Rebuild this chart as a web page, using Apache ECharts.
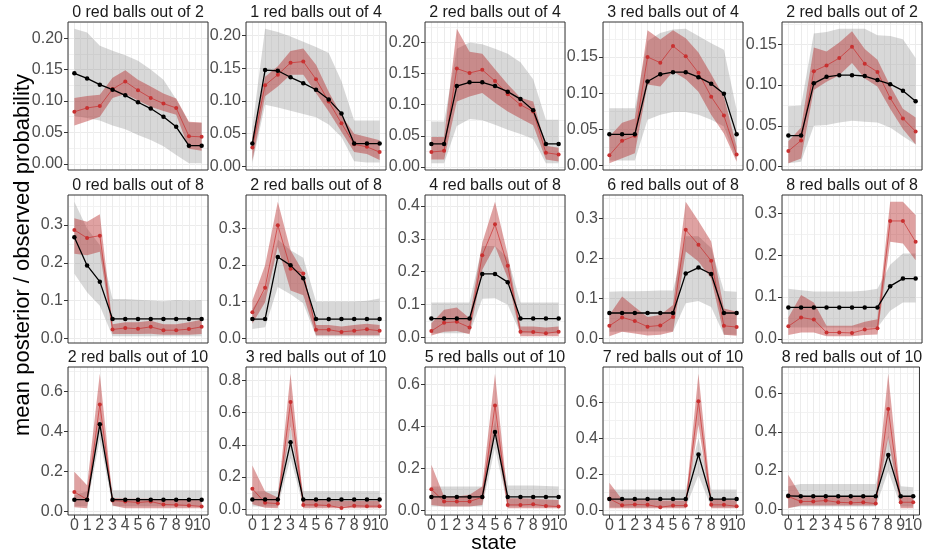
<!DOCTYPE html>
<html>
<head>
<meta charset="UTF-8">
<title>mean posterior / observed probability</title>
<style>
  html, body { margin: 0; padding: 0; background: #fff; }
  #chart { width: 925px; height: 558px; }
</style>
<script src="https://cdn.jsdelivr.net/npm/echarts@6/dist/echarts.min.js"></script>
</head>
<body>
<div id="chart"></div>
<script>
// states on the x axis
var STATES = ['0', '1', '2', '3', '4', '5', '6', '7', '8', '9', '10'];

var titles = [
  '0 red balls out of 2', '1 red balls out of 4', '2 red balls out of 4', '3 red balls out of 4', '2 red balls out of 2',
  '0 red balls out of 8', '2 red balls out of 8', '4 red balls out of 8', '6 red balls out of 8', '8 red balls out of 8',
  '2 red balls out of 10', '3 red balls out of 10', '5 red balls out of 10', '7 red balls out of 10', '8 red balls out of 10'
];

// y tick step and decimals per panel
var tickStep = [0.05, 0.05, 0.05, 0.05, 0.05, 0.1, 0.1, 0.1, 0.1, 0.1, 0.2, 0.2, 0.2, 0.2, 0.2];
var tickDigits = [2, 2, 2, 2, 2, 1, 1, 1, 1, 1, 1, 1, 1, 1, 1];

// observed probability (black) and its grey band
var observed = [
  [0.144, 0.136, 0.126, 0.118, 0.109, 0.098, 0.088, 0.075, 0.059, 0.029, 0.029],
  [0.035, 0.147, 0.146, 0.136, 0.127, 0.117, 0.102, 0.081, 0.035, 0.035, 0.035],
  [0.037, 0.037, 0.130, 0.136, 0.136, 0.130, 0.121, 0.109, 0.091, 0.037, 0.037],
  [0.043, 0.043, 0.043, 0.116, 0.126, 0.129, 0.129, 0.122, 0.113, 0.099, 0.043],
  [0.038, 0.038, 0.102, 0.110, 0.112, 0.112, 0.111, 0.106, 0.101, 0.093, 0.080],
  [0.268, 0.193, 0.150, 0.051, 0.051, 0.051, 0.051, 0.051, 0.051, 0.051, 0.051],
  [0.052, 0.052, 0.222, 0.199, 0.164, 0.052, 0.052, 0.052, 0.052, 0.052, 0.052],
  [0.057, 0.057, 0.057, 0.057, 0.193, 0.193, 0.168, 0.057, 0.057, 0.057, 0.057],
  [0.064, 0.064, 0.064, 0.064, 0.064, 0.064, 0.162, 0.177, 0.161, 0.064, 0.064],
  [0.075, 0.075, 0.075, 0.075, 0.075, 0.075, 0.075, 0.075, 0.126, 0.144, 0.144],
  [0.058, 0.058, 0.436, 0.058, 0.058, 0.058, 0.058, 0.058, 0.058, 0.058, 0.058],
  [0.060, 0.060, 0.060, 0.416, 0.060, 0.060, 0.060, 0.060, 0.060, 0.060, 0.060],
  [0.065, 0.065, 0.065, 0.065, 0.065, 0.374, 0.065, 0.065, 0.065, 0.065, 0.065],
  [0.062, 0.062, 0.062, 0.062, 0.062, 0.062, 0.062, 0.310, 0.062, 0.062, 0.062],
  [0.071, 0.069, 0.069, 0.069, 0.069, 0.069, 0.069, 0.069, 0.281, 0.069, 0.069]
];
var observedLo = [
  [0.076, 0.073, 0.069, 0.061, 0.055, 0.046, 0.038, 0.028, 0.014, 0.001, 0.001],
  [0.005, 0.094, 0.090, 0.085, 0.080, 0.075, 0.064, 0.045, 0.008, 0.006, 0.006],
  [0.006, 0.006, 0.066, 0.077, 0.075, 0.068, 0.060, 0.053, 0.045, 0.006, 0.006],
  [0.007, 0.007, 0.007, 0.063, 0.070, 0.074, 0.074, 0.070, 0.063, 0.054, 0.007],
  [0.004, 0.006, 0.050, 0.051, 0.054, 0.056, 0.055, 0.054, 0.048, 0.037, 0.027],
  [0.171, 0.122, 0.086, 0.005, 0.005, 0.005, 0.005, 0.005, 0.005, 0.005, 0.005],
  [0.025, 0.030, 0.140, 0.120, 0.095, 0.005, 0.005, 0.005, 0.005, 0.005, 0.005],
  [0.012, 0.012, 0.012, 0.012, 0.117, 0.119, 0.099, 0.012, 0.012, 0.012, 0.012],
  [0.017, 0.018, 0.018, 0.018, 0.018, 0.018, 0.088, 0.094, 0.079, 0.010, 0.010],
  [0.027, 0.027, 0.027, 0.027, 0.027, 0.027, 0.027, 0.027, 0.067, 0.087, 0.087],
  [0.025, 0.025, 0.360, 0.025, 0.025, 0.025, 0.025, 0.025, 0.025, 0.025, 0.025],
  [0.017, 0.017, 0.017, 0.318, 0.017, 0.017, 0.017, 0.017, 0.017, 0.017, 0.017],
  [0.019, 0.019, 0.019, 0.019, 0.019, 0.298, 0.019, 0.019, 0.019, 0.019, 0.019],
  [0.017, 0.017, 0.017, 0.017, 0.017, 0.017, 0.017, 0.194, 0.017, 0.017, 0.017],
  [0.010, 0.016, 0.016, 0.016, 0.016, 0.016, 0.016, 0.016, 0.198, 0.016, 0.016]
];
var observedHi = [
  [0.215, 0.209, 0.188, 0.180, 0.173, 0.164, 0.150, 0.134, 0.103, 0.066, 0.065],
  [0.060, 0.210, 0.205, 0.198, 0.190, 0.182, 0.173, 0.130, 0.070, 0.070, 0.070],
  [0.073, 0.073, 0.190, 0.200, 0.197, 0.190, 0.182, 0.168, 0.141, 0.076, 0.076],
  [0.079, 0.079, 0.079, 0.172, 0.183, 0.188, 0.189, 0.179, 0.169, 0.160, 0.077],
  [0.074, 0.075, 0.163, 0.165, 0.169, 0.169, 0.169, 0.161, 0.160, 0.156, 0.133],
  [0.362, 0.291, 0.247, 0.104, 0.104, 0.102, 0.100, 0.098, 0.101, 0.100, 0.101],
  [0.080, 0.130, 0.270, 0.240, 0.220, 0.100, 0.100, 0.100, 0.100, 0.102, 0.108],
  [0.106, 0.106, 0.106, 0.106, 0.278, 0.278, 0.242, 0.106, 0.106, 0.106, 0.106],
  [0.117, 0.118, 0.118, 0.119, 0.120, 0.120, 0.255, 0.255, 0.226, 0.119, 0.117],
  [0.120, 0.116, 0.113, 0.113, 0.113, 0.113, 0.115, 0.120, 0.177, 0.204, 0.204],
  [0.080, 0.100, 0.470, 0.105, 0.105, 0.105, 0.105, 0.105, 0.105, 0.105, 0.105],
  [0.110, 0.114, 0.114, 0.505, 0.114, 0.114, 0.114, 0.114, 0.114, 0.114, 0.114],
  [0.115, 0.115, 0.115, 0.115, 0.115, 0.433, 0.119, 0.119, 0.119, 0.117, 0.115],
  [0.116, 0.116, 0.116, 0.116, 0.116, 0.116, 0.116, 0.400, 0.116, 0.116, 0.116],
  [0.120, 0.132, 0.132, 0.132, 0.132, 0.132, 0.132, 0.132, 0.380, 0.120, 0.115]
];

// mean posterior (red) and its red band
var posterior = [
  [0.083, 0.089, 0.092, 0.119, 0.131, 0.117, 0.105, 0.096, 0.089, 0.044, 0.043],
  [0.029, 0.124, 0.140, 0.158, 0.160, 0.133, 0.099, 0.066, 0.034, 0.030, 0.022],
  [0.024, 0.026, 0.158, 0.151, 0.156, 0.138, 0.117, 0.100, 0.089, 0.023, 0.020],
  [0.014, 0.034, 0.041, 0.150, 0.142, 0.165, 0.151, 0.128, 0.095, 0.069, 0.015],
  [0.019, 0.032, 0.117, 0.124, 0.133, 0.147, 0.126, 0.116, 0.084, 0.059, 0.043],
  [0.287, 0.266, 0.272, 0.023, 0.027, 0.025, 0.030, 0.021, 0.021, 0.024, 0.030],
  [0.071, 0.138, 0.309, 0.190, 0.177, 0.023, 0.023, 0.017, 0.020, 0.024, 0.020],
  [0.019, 0.044, 0.047, 0.030, 0.250, 0.344, 0.218, 0.017, 0.016, 0.012, 0.017],
  [0.032, 0.053, 0.044, 0.030, 0.033, 0.054, 0.271, 0.234, 0.194, 0.032, 0.029],
  [0.030, 0.051, 0.046, 0.015, 0.015, 0.014, 0.022, 0.025, 0.282, 0.282, 0.232],
  [0.097, 0.059, 0.536, 0.054, 0.049, 0.044, 0.049, 0.034, 0.032, 0.029, 0.024],
  [0.127, 0.040, 0.035, 0.667, 0.027, 0.027, 0.023, 0.008, 0.021, 0.019, 0.019],
  [0.102, 0.043, 0.043, 0.043, 0.064, 0.501, 0.027, 0.027, 0.030, 0.022, 0.019],
  [0.064, 0.028, 0.032, 0.030, 0.017, 0.026, 0.026, 0.606, 0.030, 0.030, 0.022],
  [0.068, 0.042, 0.042, 0.047, 0.038, 0.035, 0.038, 0.031, 0.518, 0.038, 0.038]
];
var posteriorLo = [
  [0.061, 0.068, 0.075, 0.105, 0.111, 0.101, 0.091, 0.084, 0.078, 0.024, 0.021],
  [0.009, 0.107, 0.122, 0.140, 0.140, 0.112, 0.084, 0.053, 0.022, 0.019, 0.010],
  [0.012, 0.012, 0.105, 0.113, 0.119, 0.103, 0.089, 0.078, 0.067, 0.012, 0.009],
  [0.003, 0.010, 0.017, 0.112, 0.109, 0.130, 0.119, 0.102, 0.070, 0.044, 0.005],
  [0.004, 0.010, 0.094, 0.104, 0.112, 0.127, 0.108, 0.098, 0.071, 0.046, 0.027],
  [0.224, 0.220, 0.229, 0.011, 0.011, 0.011, 0.012, 0.009, 0.009, 0.009, 0.011],
  [0.039, 0.098, 0.250, 0.130, 0.117, 0.008, 0.008, 0.008, 0.008, 0.008, 0.008],
  [0.005, 0.017, 0.019, 0.009, 0.206, 0.278, 0.180, 0.003, 0.003, 0.003, 0.003],
  [0.006, 0.017, 0.013, 0.008, 0.010, 0.017, 0.217, 0.192, 0.150, 0.010, 0.007],
  [0.009, 0.015, 0.015, 0.006, 0.006, 0.006, 0.009, 0.010, 0.232, 0.228, 0.188],
  [0.020, 0.015, 0.461, 0.029, 0.015, 0.015, 0.015, 0.015, 0.015, 0.015, 0.015],
  [0.031, 0.010, 0.006, 0.515, 0.006, 0.006, 0.006, 0.006, 0.006, 0.006, 0.006],
  [0.027, 0.019, 0.019, 0.019, 0.027, 0.385, 0.011, 0.011, 0.011, 0.011, 0.011],
  [0.011, 0.011, 0.011, 0.011, 0.011, 0.011, 0.011, 0.475, 0.011, 0.011, 0.011],
  [0.007, 0.021, 0.021, 0.021, 0.021, 0.021, 0.021, 0.021, 0.371, 0.007, 0.007]
];
var posteriorHi = [
  [0.105, 0.108, 0.110, 0.137, 0.149, 0.134, 0.123, 0.112, 0.104, 0.067, 0.066],
  [0.045, 0.137, 0.153, 0.176, 0.180, 0.155, 0.114, 0.078, 0.050, 0.045, 0.040],
  [0.048, 0.048, 0.222, 0.185, 0.182, 0.157, 0.133, 0.111, 0.105, 0.034, 0.031],
  [0.040, 0.059, 0.065, 0.187, 0.174, 0.187, 0.176, 0.156, 0.126, 0.095, 0.026],
  [0.031, 0.048, 0.146, 0.141, 0.152, 0.166, 0.144, 0.131, 0.099, 0.071, 0.060],
  [0.318, 0.309, 0.329, 0.037, 0.042, 0.042, 0.046, 0.037, 0.037, 0.042, 0.049],
  [0.103, 0.199, 0.373, 0.240, 0.181, 0.036, 0.036, 0.032, 0.036, 0.039, 0.036],
  [0.043, 0.084, 0.091, 0.058, 0.288, 0.413, 0.252, 0.033, 0.033, 0.030, 0.033],
  [0.059, 0.105, 0.079, 0.054, 0.059, 0.084, 0.341, 0.293, 0.242, 0.075, 0.067],
  [0.051, 0.105, 0.087, 0.031, 0.031, 0.031, 0.041, 0.047, 0.328, 0.328, 0.296],
  [0.198, 0.130, 0.690, 0.066, 0.063, 0.063, 0.063, 0.060, 0.060, 0.060, 0.054],
  [0.272, 0.110, 0.073, 0.842, 0.058, 0.058, 0.055, 0.052, 0.052, 0.052, 0.052],
  [0.218, 0.067, 0.067, 0.075, 0.115, 0.652, 0.059, 0.059, 0.056, 0.053, 0.051],
  [0.153, 0.060, 0.060, 0.060, 0.054, 0.054, 0.054, 0.759, 0.064, 0.060, 0.054],
  [0.180, 0.073, 0.068, 0.068, 0.068, 0.068, 0.068, 0.062, 0.700, 0.068, 0.062]
];

var FONT = '"Liberation Sans", Arial, sans-serif';
var myChart = echarts.init(document.getElementById('chart'));

var grids = [], xAxes = [], yAxes = [], series = [], texts = [];

function diff(hi, lo) {
  return hi.map(function (v, k) { return +(v - lo[k]).toFixed(4); });
}

for (var i = 0; i < titles.length; i++) {
  var row = Math.floor(i / 5), col = i % 5;
  var gLeft = Math.round(67.7 + col * 178.5), gTop = Math.round(22.3 + row * 172.5);
  var gW = 140, gH = 148;

  // z 1 so the panel frame sits above the grid lines
  grids.push({ left: gLeft, top: gTop, width: gW, height: gH, show: true, z: 1,
    borderColor: '#333', borderWidth: 1, backgroundColor: 'transparent' });

  // y range like ggplot: data range expanded by 5%
  var all = [].concat(observed[i], observedLo[i], observedHi[i], posterior[i], posteriorLo[i], posteriorHi[i]);
  var dMin = Math.min.apply(null, all), dMax = Math.max.apply(null, all);
  var pad = (dMax - dMin) * 0.05;
  var yMin = dMin - pad, yMax = dMax + pad;
  var step = tickStep[i];
  var majors = [], minors = [];
  for (var k = 0; k * step <= yMax; k++) majors.push(+(k * step).toFixed(4));
  for (var m = -1; (m + 0.5) * step <= yMax; m++) {
    var v = +((m + 0.5) * step).toFixed(4);
    if (v >= yMin) minors.push(v);
  }

  // grid-line-only x axis (major lines at integer states)
  xAxes.push({ gridIndex: i, type: 'value', min: -0.5, max: 10.5, position: 'bottom',
    axisLine: { show: false, onZero: false },
    axisTick: { show: false, customValues: [0, 1, 2, 3, 4, 5, 6, 7, 8, 9, 10] },
    axisLabel: { show: false },
    splitLine: { show: true, lineStyle: { color: '#ebebeb', width: 1 } } });
  // data x axis (category), minor lines at band edges
  xAxes.push({ gridIndex: i, type: 'category', data: STATES, boundaryGap: true, position: 'bottom',
    axisLine: { show: false, onZero: false },
    axisTick: { show: row === 2, alignWithLabel: true, length: 4, lineStyle: { color: '#333' } },
    axisLabel: { show: row === 2, interval: 0, margin: 3, fontSize: 16, color: '#4d4d4d', fontFamily: FONT },
    splitLine: { show: true, interval: 0, lineStyle: { color: '#f2f2f2', width: 1 } } });

  yAxes.push({ gridIndex: i, type: 'value', min: yMin, max: yMax, position: 'left',
    axisLine: { show: false, onZero: false },
    axisTick: { show: false, customValues: minors },
    axisLabel: { show: false },
    splitLine: { show: true, lineStyle: { color: '#f2f2f2', width: 1 } } });
  yAxes.push({ gridIndex: i, type: 'value', min: yMin, max: yMax, position: 'left',
    axisLine: { show: false, onZero: false },
    axisTick: { show: true, length: 4, customValues: majors, lineStyle: { color: '#333' } },
    axisLabel: { customValues: majors, margin: 5, fontSize: 16, color: '#4d4d4d', fontFamily: FONT,
      formatter: (function (d) { return function (val) { return val.toFixed(d); }; })(tickDigits[i]) },
    splitLine: { show: true, lineStyle: { color: '#ebebeb', width: 1 } } });

  var xi = 2 * i + 1, yi = 2 * i + 1;
  // grey band
  series.push({ type: 'line', xAxisIndex: xi, yAxisIndex: yi, stack: 'obs' + i, data: observedLo[i],
    symbol: 'none', lineStyle: { opacity: 0 }, silent: true });
  series.push({ type: 'line', xAxisIndex: xi, yAxisIndex: yi, stack: 'obs' + i, data: diff(observedHi[i], observedLo[i]),
    symbol: 'none', lineStyle: { opacity: 0 }, areaStyle: { color: 'rgba(127,127,127,0.3)', opacity: 1 }, silent: true });
  // red band
  series.push({ type: 'line', xAxisIndex: xi, yAxisIndex: yi, stack: 'post' + i, data: posteriorLo[i],
    symbol: 'none', lineStyle: { opacity: 0 }, silent: true });
  series.push({ type: 'line', xAxisIndex: xi, yAxisIndex: yi, stack: 'post' + i, data: diff(posteriorHi[i], posteriorLo[i]),
    symbol: 'none', lineStyle: { opacity: 0 }, areaStyle: { color: 'rgba(178,34,34,0.42)', opacity: 1 }, silent: true });
  // posterior line
  series.push({ type: 'line', xAxisIndex: xi, yAxisIndex: yi, data: posterior[i],
    symbol: 'circle', symbolSize: 4, showSymbol: true,
    lineStyle: { color: 'rgba(200,40,40,0.65)', width: 1 },
    itemStyle: { color: '#c83030', borderWidth: 0 } });
  // observed line
  series.push({ type: 'line', xAxisIndex: xi, yAxisIndex: yi, data: observed[i],
    symbol: 'circle', symbolSize: 4.5, showSymbol: true,
    lineStyle: { color: '#000', width: 1.3 },
    itemStyle: { color: '#000', borderWidth: 0 } });

  texts.push({ type: 'text', x: gLeft + gW / 2, y: gTop - 9.3,
    style: { text: titles[i], fontSize: 16, fontFamily: FONT, fill: '#1a1a1a', align: 'center', verticalAlign: 'middle' } });
}

texts.push({ type: 'text', x: 23, y: 255, rotation: Math.PI / 2,
  style: { text: 'mean posterior / observed probability', fontSize: 22, fontFamily: FONT, fill: '#000', align: 'center', verticalAlign: 'middle' } });
texts.push({ type: 'text', x: 494, y: 543,
  style: { text: 'state', fontSize: 21, fontFamily: FONT, fill: '#000', align: 'center', verticalAlign: 'middle' } });

var option = {
  animation: false,
  backgroundColor: '#fff',
  grid: grids,
  xAxis: xAxes,
  yAxis: yAxes,
  series: series,
  graphic: texts
};
myChart.setOption(option);
</script>
</body>
</html>
